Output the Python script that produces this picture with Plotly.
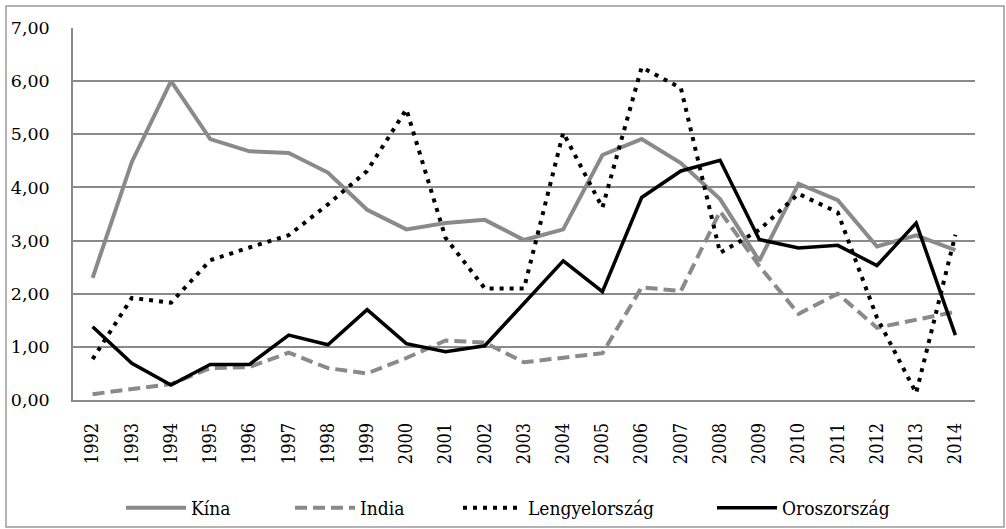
import plotly.graph_objects as go

years = [str(y) for y in range(1992, 2015)]
kina = [2.30, 4.48, 6.00, 4.91, 4.68, 4.65, 4.28, 3.58, 3.21, 3.33, 3.39, 3.01, 3.21,
        4.61, 4.91, 4.46, 3.78, 2.62, 4.07, 3.76, 2.89, 3.10, 2.82]
india = [0.11, 0.20, 0.30, 0.60, 0.62, 0.89, 0.60, 0.50, 0.79, 1.12, 1.08, 0.71, 0.80,
         0.88, 2.12, 2.05, 3.55, 2.52, 1.62, 2.00, 1.36, 1.51, 1.66]
lengyel = [0.77, 1.92, 1.83, 2.63, 2.87, 3.10, 3.68, 4.31, 5.47, 3.05, 2.10, 2.10, 5.03,
           3.62, 6.26, 5.87, 2.77, 3.20, 3.88, 3.53, 1.55, 0.13, 3.11]
orosz = [1.38, 0.69, 0.28, 0.67, 0.67, 1.22, 1.04, 1.70, 1.06, 0.91, 1.02, 1.82, 2.62,
         2.04, 3.81, 4.31, 4.51, 3.02, 2.86, 2.91, 2.53, 3.33, 1.22]
y_ticks = [0, 1, 2, 3, 4, 5, 6, 7]

GREY = "#8a8a8a"
SERIF = "DejaVu Serif"
NARROW = "DejaVu Serif Condensed, DejaVu Serif"

W, H = 1006, 529
L, R, T, B = 73, 975, 28, 400
pw, ph = R - L, B - T

fig = go.Figure()
fig.add_trace(go.Scatter(x=years, y=kina, name="Kína", mode="lines", legend="legend",
                         line=dict(color=GREY, width=4)))
fig.add_trace(go.Scatter(x=years, y=india, name="India", mode="lines", legend="legend2",
                         line=dict(color=GREY, width=4, dash="12px,6px")))
fig.add_trace(go.Scatter(x=years, y=lengyel, name="Lengyelország", mode="lines", legend="legend3",
                         line=dict(color="black", width=4, dash="4px,6px")))
fig.add_trace(go.Scatter(x=years, y=orosz, name="Oroszország", mode="lines", legend="legend4",
                         line=dict(color="black", width=3.5)))

def leg(px):
    return dict(orientation="h", x=(px - L) / pw, xanchor="left",
                y=(B - 508) / ph, yanchor="middle", bgcolor="rgba(0,0,0,0)",
                font=dict(family=NARROW, size=19, color="black"), itemwidth=60)

fig.update_layout(
    width=W, height=H,
    margin=dict(l=L, r=W - R, t=T, b=H - B, pad=0, autoexpand=False),
    paper_bgcolor="white", plot_bgcolor="white",
    separators=",.",
    font=dict(family=SERIF, size=18, color="black"),
    showlegend=True,
    legend=leg(121), legend2=leg(290), legend3=leg(458), legend4=leg(712),
    xaxis=dict(type="category", range=[-0.5, len(years) - 0.5], tickangle=-90,
               showgrid=False, showline=True, linecolor=GREY, linewidth=1.5,
               automargin=False,
               ticks="", tickfont=dict(family=NARROW, size=18), ticklabelstandoff=14),
    yaxis=dict(range=[0, 7], tickvals=y_ticks, tickformat=".2f",
               showgrid=True, gridcolor=GREY, gridwidth=1.5, automargin=False,
               showline=True, linecolor=GREY, linewidth=1.5, zeroline=False,
               ticks="", tickfont=dict(family=SERIF, size=17.5), ticklabelstandoff=18),
    shapes=[dict(type="rect", xref="paper", yref="paper",
                 x0=(6 - L) / pw, x1=(1004 - L) / pw,
                 y0=(B - 527) / ph, y1=(B - 6) / ph,
                 line=dict(color="#999999", width=1.5), layer="below")],
)

fig.write_html("out.html", config={"displayModeBar": False},
               post_script="document.body.style.margin='0';document.body.style.overflow='hidden';")
